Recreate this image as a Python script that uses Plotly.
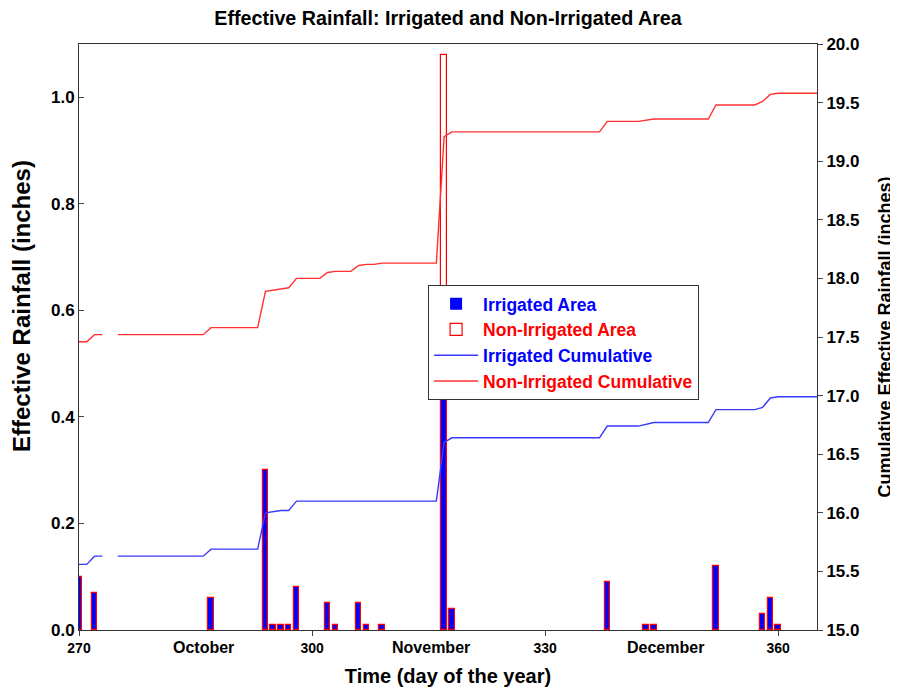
import plotly.graph_objects as go

# daily effective rainfall (inches)
bar_days = [270, 272, 287, 294, 295, 296, 297, 298, 302, 303, 306, 307, 309,
            317, 318, 338, 343, 344, 352, 358, 359, 360]
irrigated_area = [0.10, 0.07, 0.06, 0.30, 0.01, 0.01, 0.01, 0.08, 0.05, 0.01, 0.05, 0.01, 0.01,
                  0.50, 0.04, 0.09, 0.01, 0.01, 0.12, 0.03, 0.06, 0.01]
non_irrigated_area = [0.10, 0.07, 0.06, 0.30, 0.01, 0.01, 0.01, 0.08, 0.05, 0.01, 0.05, 0.01, 0.01,
                      1.08, 0.04, 0.09, 0.01, 0.01, 0.12, 0.03, 0.06, 0.01]

# cumulative effective rainfall (inches)
cum_days = [270, 271, 272, 273, 274, 275, 286, 287, 293, 294, 295, 296, 297, 298,
            301, 302, 303, 305, 306, 307, 308, 309, 316, 317, 318, 337, 338,
            342, 343, 344, 351, 352, 357, 358, 359, 360, 365]
irrigated_cum = [15.56, 15.56, 15.63, 15.63, None, 15.63, 15.63, 15.69, 15.69, 16.00, 16.01, 16.02, 16.02, 16.10,
                 16.10, 16.10, 16.10, 16.10, 16.10, 16.10, 16.10, 16.10, 16.10, 16.60, 16.64, 16.64, 16.74,
                 16.74, 16.755, 16.77, 16.77, 16.88, 16.88, 16.90, 16.98, 16.99, 16.99]
non_irrigated_cum = [17.46, 17.46, 17.52, 17.52, None, 17.52, 17.52, 17.58, 17.58, 17.89, 17.90, 17.91, 17.92, 18.00,
                     18.00, 18.05, 18.06, 18.06, 18.11, 18.12, 18.12, 18.13, 18.13, 19.21, 19.25, 19.25, 19.34,
                     19.34, 19.35, 19.36, 19.36, 19.48, 19.48, 19.51, 19.57, 19.58, 19.58]

day_ticks = [270, 300, 330, 360]
month_names = ["October", "November", "December"]
month_pos = [286, 315.3, 345.5]

FONT = "Arial, Liberation Sans, sans-serif"
BLUE = "#0000ff"
RED = "#ff0000"

fig = go.Figure()

fig.add_trace(go.Bar(
    x=bar_days, y=irrigated_area, width=0.7,
    name="<span style='color:#0000ff'>Irrigated Area</span>",
    marker=dict(color=BLUE, line=dict(width=0)),
))
fig.add_trace(go.Bar(
    x=bar_days, y=non_irrigated_area, width=0.7,
    name="<span style='color:#ff0000'>Non-Irrigated Area</span>",
    marker=dict(color="rgba(0,0,0,0)", line=dict(color=RED, width=1.2)),
))
fig.add_trace(go.Scatter(
    x=cum_days, y=irrigated_cum, yaxis="y2", mode="lines", connectgaps=False,
    name="<span style='color:#0000ff'>Irrigated Cumulative</span>",
    line=dict(color="#3838ff", width=1.4),
))
fig.add_trace(go.Scatter(
    x=cum_days, y=non_irrigated_cum, yaxis="y2", mode="lines", connectgaps=False,
    name="<span style='color:#ff0000'>Non-Irrigated Cumulative</span>",
    line=dict(color="#ff3030", width=1.4),
))

for name, pos in zip(month_names, month_pos):
    fig.add_annotation(
        x=pos, y=0, xref="x", yref="paper", yanchor="top", yshift=-7,
        text=name, showarrow=False,
        font=dict(family=FONT, size=16, color="black", weight="bold"),
    )

# left axis title sits a little above the middle of the axis
fig.add_annotation(
    x=-0.077, y=0.553, xref="paper", yref="paper", xanchor="center", yanchor="middle",
    text="Effective Rainfall (inches)", textangle=-90, showarrow=False,
    font=dict(family=FONT, size=24, color="black", weight="bold"),
)

# the page body adds an 8px offset, so the figure is 8px smaller than the window
fig.update_layout(
    width=890, height=686,
    margin=dict(l=71, r=81, t=36, b=64, autoexpand=False),
    plot_bgcolor="white", paper_bgcolor="white",
    barmode="overlay", bargap=0,
    showlegend=True,
    title=dict(
        text="Effective Rainfall: Irrigated and Non-Irrigated Area",
        x=0.5, xref="paper", xanchor="center", y=0.985, yanchor="middle",
        font=dict(family=FONT, size=19.7, color="black", weight="bold"),
    ),
    legend=dict(
        x=0.473, y=0.589, xanchor="left", yanchor="top",
        bgcolor="white", bordercolor="#333333", borderwidth=1,
        font=dict(family=FONT, size=17.5, weight="bold"),
        tracegroupgap=0, itemwidth=44,
    ),
    xaxis=dict(
        range=[270, 365], tickvals=day_ticks, ticks="outside", ticklen=5,
        showline=True, linecolor="#333333", linewidth=1, mirror=True,
        showgrid=False, zeroline=False, automargin=False,
        tickfont=dict(family=FONT, size=14, color="black", weight="bold"),
        title=dict(text="Time (day of the year)", standoff=14,
                   font=dict(family=FONT, size=20, color="black", weight="bold")),
    ),
    yaxis=dict(
        range=[0, 1.1], tickvals=[0, 0.2, 0.4, 0.6, 0.8, 1.0], tickformat=".1f",
        ticks="inside", ticklen=5,
        showline=True, linecolor="#333333", linewidth=1,
        showgrid=False, zeroline=False, automargin=False,
        tickfont=dict(family=FONT, size=17, color="black", weight="bold"),
    ),
    yaxis2=dict(
        range=[15, 20], dtick=0.5, tickformat=".1f", overlaying="y", side="right",
        ticks="outside", ticklen=5,
        showline=True, linecolor="#333333", linewidth=1,
        showgrid=False, zeroline=False, automargin=False,
        tickfont=dict(family=FONT, size=17, color="black", weight="bold"),
        title=dict(text="Cumulative Effective Rainfall (inches)", standoff=19,
                   font=dict(family=FONT, size=18, color="black", weight="bold")),
    ),
)

fig.write_html("out.html")
